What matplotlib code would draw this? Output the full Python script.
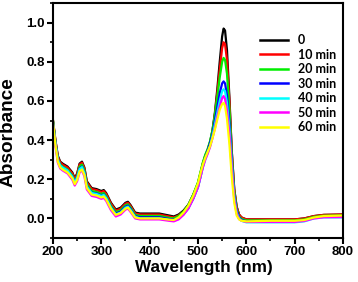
import matplotlib
matplotlib.use("Agg")
import matplotlib.pyplot as plt
from matplotlib.ticker import MultipleLocator

plt.rcParams['font.family'] = ['Liberation Sans', 'DejaVu Sans']
plt.rcParams['font.weight'] = 'bold'

# wavelength grid (nm)
wavelength = [200, 205, 210, 215, 220, 230, 240, 245, 250, 255,
              260, 265, 270, 280, 290, 300, 305, 310, 320, 330,
              340, 350, 355, 360, 370, 380, 400, 420, 440, 450,
              460, 470, 480, 490, 500, 505, 510, 515, 520, 525,
              530, 535, 540, 545, 550, 553, 556, 560, 565, 570,
              575, 580, 585, 590, 600, 650, 700, 720, 740, 760, 800]

abs_0 = [0.50, 0.40, 0.32, 0.29, 0.28, 0.265, 0.235, 0.205, 0.23, 0.28,
         0.29, 0.26, 0.19, 0.155, 0.15, 0.14, 0.145, 0.13, 0.08, 0.045,
         0.055, 0.08, 0.085, 0.07, 0.03, 0.025, 0.025, 0.025, 0.015, 0.01,
         0.02, 0.04, 0.07, 0.12, 0.18, 0.23, 0.28, 0.32, 0.35, 0.39,
         0.45, 0.54, 0.66, 0.80, 0.93, 0.97, 0.96, 0.86, 0.62, 0.34,
         0.15, 0.06, 0.02, 0.005, -0.005, -0.005, -0.005, 0.0, 0.012, 0.018, 0.02]

abs_10 = [0.50, 0.40, 0.315, 0.285, 0.275, 0.26, 0.23, 0.20, 0.225, 0.275,
          0.285, 0.255, 0.185, 0.15, 0.145, 0.135, 0.14, 0.125, 0.075, 0.04,
          0.05, 0.075, 0.08, 0.065, 0.025, 0.02, 0.02, 0.02, 0.01, 0.005,
          0.015, 0.035, 0.065, 0.115, 0.175, 0.225, 0.275, 0.315, 0.345, 0.385,
          0.44, 0.53, 0.64, 0.76, 0.87, 0.90, 0.89, 0.81, 0.60, 0.34,
          0.15, 0.06, 0.02, 0.005, -0.005, -0.005, -0.005, 0.0, 0.012, 0.018, 0.02]

abs_20 = [0.50, 0.39, 0.305, 0.275, 0.265, 0.25, 0.22, 0.19, 0.215, 0.265,
          0.275, 0.245, 0.175, 0.14, 0.135, 0.125, 0.13, 0.115, 0.065, 0.032,
          0.042, 0.067, 0.072, 0.057, 0.018, 0.013, 0.013, 0.013, 0.003, 0.0,
          0.012, 0.035, 0.068, 0.12, 0.185, 0.235, 0.285, 0.325, 0.355, 0.395,
          0.45, 0.53, 0.62, 0.72, 0.80, 0.82, 0.81, 0.74, 0.56, 0.32,
          0.14, 0.05, 0.01, -0.002, -0.01, -0.01, -0.01, -0.005, 0.008, 0.014, 0.015]

abs_30 = [0.49, 0.385, 0.30, 0.27, 0.26, 0.245, 0.215, 0.185, 0.21, 0.255,
          0.265, 0.235, 0.165, 0.132, 0.128, 0.118, 0.122, 0.108, 0.058, 0.025,
          0.035, 0.06, 0.065, 0.05, 0.012, 0.006, 0.006, 0.006, -0.003, -0.006,
          0.002, 0.022, 0.052, 0.10, 0.16, 0.21, 0.265, 0.31, 0.345, 0.385,
          0.43, 0.50, 0.57, 0.64, 0.69, 0.70, 0.69, 0.63, 0.49, 0.29,
          0.12, 0.04, 0.005, -0.008, -0.015, -0.015, -0.015, -0.01, 0.003, 0.008, 0.01]

abs_40 = [0.49, 0.385, 0.30, 0.27, 0.26, 0.245, 0.213, 0.183, 0.208, 0.252,
          0.262, 0.232, 0.163, 0.13, 0.125, 0.115, 0.12, 0.105, 0.055, 0.02,
          0.03, 0.055, 0.06, 0.045, 0.008, 0.0, 0.0, 0.0, -0.008, -0.012,
          -0.002, 0.02, 0.052, 0.10, 0.16, 0.21, 0.26, 0.30, 0.335, 0.37,
          0.42, 0.48, 0.54, 0.60, 0.65, 0.66, 0.65, 0.59, 0.46, 0.27,
          0.11, 0.03, 0.0, -0.012, -0.02, -0.02, -0.02, -0.015, 0.0, 0.005, 0.005]

abs_50 = [0.48, 0.37, 0.285, 0.255, 0.245, 0.23, 0.198, 0.168, 0.19, 0.235,
          0.245, 0.215, 0.148, 0.115, 0.11, 0.10, 0.105, 0.09, 0.042, 0.01,
          0.02, 0.045, 0.05, 0.035, 0.0, -0.005, -0.005, -0.005, -0.012, -0.015,
          -0.005, 0.018, 0.05, 0.10, 0.16, 0.21, 0.26, 0.30, 0.33, 0.365,
          0.41, 0.46, 0.52, 0.57, 0.615, 0.625, 0.61, 0.55, 0.43, 0.25,
          0.10, 0.025, -0.003, -0.012, -0.018, -0.018, -0.018, -0.013, 0.0, 0.006, 0.007]

abs_60 = [0.49, 0.375, 0.29, 0.26, 0.25, 0.235, 0.205, 0.175, 0.197, 0.24,
          0.25, 0.222, 0.155, 0.122, 0.117, 0.107, 0.112, 0.097, 0.05, 0.018,
          0.028, 0.05, 0.055, 0.04, 0.005, 0.0, 0.0, 0.0, -0.006, -0.008,
          0.005, 0.03, 0.065, 0.115, 0.18, 0.23, 0.275, 0.31, 0.34, 0.37,
          0.41, 0.455, 0.505, 0.555, 0.585, 0.59, 0.575, 0.51, 0.38, 0.21,
          0.08, 0.015, -0.005, -0.012, -0.015, -0.012, -0.012, -0.008, 0.005, 0.012, 0.015]

labels = ['0', '10 min', '20 min', '30 min', '40 min', '50 min', '60 min']
colors = ['black', 'red', '#00ee00', 'blue', 'cyan', 'magenta', 'yellow']
series = [abs_0, abs_10, abs_20, abs_30, abs_40, abs_50, abs_60]

fig = plt.figure(figsize=(3.58, 2.82), dpi=100)
ax = fig.add_axes([0.148, 0.156, 0.810, 0.833])

for y, c, lab in zip(series, colors, labels):
    ax.plot(wavelength, y, color=c, lw=1.6, label=lab)

ax.set_xlim(200, 800)
ax.set_ylim(-0.1, 1.1)
ax.xaxis.set_major_locator(MultipleLocator(100))
ax.xaxis.set_minor_locator(MultipleLocator(50))
ax.set_yticks([0.0, 0.2, 0.4, 0.6, 0.8, 1.0])
ax.yaxis.set_minor_locator(MultipleLocator(0.1))

for s in ax.spines.values():
    s.set_linewidth(1.5)
ax.tick_params(which='major', direction='out', length=4, width=1.5,
               labelsize=9.5, pad=2, top=False, right=False)
ax.tick_params(which='minor', direction='out', length=2.5, width=1.2,
               top=False, right=False)
for t in ax.get_xticklabels() + ax.get_yticklabels():
    t.set_fontweight('bold')

ax.set_xlabel('Wavelength (nm)', fontsize=12.3, fontweight='bold')
ax.set_ylabel('Absorbance', fontsize=13.7, fontweight='bold')
ax.xaxis.set_label_coords(0.521, -0.095)
ax.yaxis.set_label_coords(-0.125, 0.449)

leg = ax.legend(loc='upper left', bbox_to_anchor=(0.714, 0.868), frameon=False,
                borderpad=0, borderaxespad=0, handlelength=2.2,
                handletextpad=0.8, labelspacing=0.2,
                prop={'family': 'Lato', 'weight': 'bold', 'size': 9})
for h in leg.get_lines():
    h.set_linewidth(1.8)

fig.savefig('out.png', dpi=100)
